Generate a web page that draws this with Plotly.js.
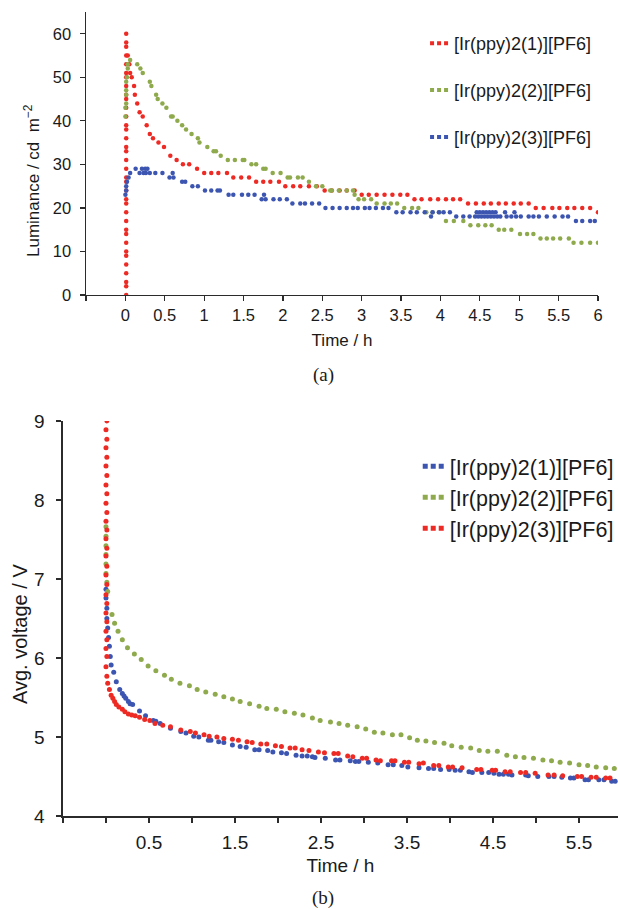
<!DOCTYPE html>
<html>
<head>
<meta charset="utf-8">
<script src="https://cdn.plot.ly/plotly-3.0.1.min.js"></script>
<style>html,body{margin:0;padding:0;background:#fff;overflow:hidden}#chart{width:618px;height:909px}</style>
</head>
<body>
<div id="chart"></div>
<script>
// ---------- (a) Luminance vs time ----------
const seriesNamesA = ['[Ir(ppy)2(1)][PF6]', '[Ir(ppy)2(2)][PF6]', '[Ir(ppy)2(3)][PF6]'];
const timeA1 = [0.01,0.01,0.01,0.01,0.01,0.01,0.01,0.01,0.01,0.01,0.01,0.01,0.01,0.01,0.01,0.01,0.01,0.01,0.01,0.01,0.01,0.01,0.01,0.01,0.01,0.01,0.01,0.01,0.01,0.01,0.01,0.01,0.01,0.01,0.01,0.01,
  0.03,0.05,0.06,0.08,0.11,0.12,0.15,0.18,0.22,0.27,0.31,0.35,0.42,0.49,0.57,0.65,0.73,0.81,0.91,1.0,1.09,1.18,1.29,1.37,1.47,1.57,1.66,1.75,1.84,1.95,2.03,2.13,2.22,2.33,2.43,2.53,2.62,2.72,2.81,2.91,3.0,3.09,3.19,3.29,3.39,3.49,3.58,3.67,3.76,3.87,3.97,4.07,4.16,4.25,4.35,4.45,4.55,4.64,4.74,4.83,4.93,5.02,5.12,5.21,5.31,5.42,5.51,5.61,5.70,5.80,5.90,6.0];
const lumA1 = [0,2,3,5,7,9,10,12,14,15,17,19,21,22,24,26,27,29,31,33,34,36,38,39,41,43,45,46,48,50,51,53,55,57,58,60,
  55,53,51,50,48,46,44,42,41,39,37,36,35,34,32,31,30,30,29,28,28,28,28,27,27,27,26,26,26,26,25,25,25,25,25,24,24,24,24,24,23,23,23,23,23,23,23,22,22,22,22,22,22,22,21,21,21,21,21,21,21,21,21,20,20,20,20,20,20,20,20,19];
const timeA2 = [0,0,0.01,0.01,0.01,0.01,0.02,0.03,0.03,0.06,0.15,0.19,0.22,0.31,0.33,0.39,0.41,0.47,0.52,0.58,0.60,0.66,0.72,0.77,0.84,0.92,0.94,1.04,1.12,1.15,1.21,1.30,1.39,1.49,1.51,1.60,1.66,1.75,1.78,1.87,1.97,2.06,2.09,2.19,2.25,2.33,2.42,2.50,2.60,2.62,2.71,2.81,2.89,2.91,2.96,3.03,3.12,3.19,3.29,3.37,3.45,3.54,3.64,3.72,3.82,3.90,3.99,4.07,4.17,4.29,4.38,4.48,4.57,4.65,4.74,4.81,4.90,5.01,5.10,5.18,5.27,5.35,5.43,5.52,5.63,5.69,5.79,5.90,6.0];
const lumA2 = [41,43,44,46,47,49,50,52,53,54,53,52,51,49,48,46,45,44,43,41,41,40,39,38,37,36,35,34,33,33,32,31,31,31,31,30,30,29,29,28,28,27,27,27,27,26,25,25,24,24,24,24,24,23,22,22,22,21,21,21,21,20,20,20,19,19,19,17,17,17,16,16,16,16,15,15,15,14,14,14,13,13,13,13,13,12,12,12,12];
const timeA3 = [0,0.01,0.01,0.02,0.04,0.06,0.13,0.18,0.21,0.23,0.25,0.26,0.28,0.31,0.38,0.47,0.56,0.60,0.61,0.72,0.76,0.85,0.92,1.01,1.09,1.17,1.20,1.31,1.37,1.48,1.56,1.64,1.73,1.76,1.78,1.88,1.96,2.05,2.12,2.22,2.28,2.37,2.46,2.54,2.63,2.72,2.81,2.89,2.95,3.04,3.10,3.18,3.27,3.34,3.44,3.52,3.62,3.70,3.80,3.88,3.90,3.98,4.04,4.12,4.20,4.29,4.37,4.44,4.46,4.48,4.50,4.52,4.54,4.56,4.58,4.60,4.62,4.64,4.66,4.68,4.70,4.72,4.76,4.82,4.84,4.90,4.94,4.96,5.02,5.12,5.18,5.25,5.35,5.45,5.55,5.62,5.72,5.80,5.90,5.96];
const lumA3 = [23,24,25,26,27,28,29,28,29,28,29,28,29,28,28,28,27,28,27,26,26,25,25,24,24,24,24,23,23,23,23,23,22,23,22,22,22,22,21,21,21,21,21,20,20,20,20,20,20,20,20,20,20,20,19,19,19,19,19,18,19,19,19,19,18,18,18,18,19,18,19,18,19,18,19,18,19,18,19,18,19,18,18,19,18,18,19,18,18,18,18,18,18,18,18,18,17,17,17,17];
const xTicksA = [0,0.5,1,1.5,2,2.5,3,3.5,4,4.5,5,5.5,6];
const xTickTextA = ['0','0.5','1','1.5','2','2.5','3','3.5','4','4.5','5','5.5','6'];

// ---------- (b) Average voltage vs time ----------
const seriesNamesB = ['[Ir(ppy)2(1)][PF6]', '[Ir(ppy)2(2)][PF6]', '[Ir(ppy)2(3)][PF6]'];
const timeB1 = [0,0,0.01,0.01,0.02,0.03,0.04,0.05,0.06,0.09,0.12,0.16,0.19,0.21,0.23,0.26,0.28,0.31,0.39,0.46,0.55,0.58,0.63,0.75,0.87,0.93,1.02,1.08,1.19,1.22,1.31,1.37,1.47,1.56,1.63,1.73,1.78,1.88,1.94,2.04,2.10,2.21,2.28,2.34,2.40,2.43,2.55,2.67,2.72,2.84,2.90,2.94,3.05,3.16,3.28,3.34,3.44,3.51,3.64,3.75,3.81,3.89,3.99,4.06,4.12,4.22,4.26,4.37,4.45,4.51,4.57,4.62,4.68,4.72,4.88,4.91,5.02,5.15,5.21,5.30,5.40,5.44,5.57,5.61,5.73,5.79,5.88,5.92];
const voltB1 = [6.87,6.76,6.63,6.50,6.38,6.26,6.15,6.02,5.91,5.82,5.70,5.60,5.55,5.52,5.49,5.45,5.42,5.41,5.33,5.27,5.21,5.20,5.17,5.11,5.07,5.05,5.01,5.00,4.96,4.96,4.94,4.93,4.90,4.88,4.87,4.84,4.84,4.83,4.81,4.80,4.79,4.77,4.76,4.76,4.75,4.74,4.73,4.71,4.71,4.70,4.69,4.69,4.68,4.67,4.65,4.65,4.64,4.62,4.61,4.60,4.60,4.59,4.59,4.58,4.58,4.56,4.55,4.55,4.55,4.54,4.53,4.53,4.53,4.52,4.52,4.51,4.50,4.50,4.50,4.49,4.48,4.48,4.46,4.46,4.46,4.46,4.44,4.44];
const timeB2 = [0,0,0,0,0,0,0.01,0.02,0.07,0.10,0.14,0.19,0.25,0.33,0.41,0.49,0.58,0.68,0.76,0.86,0.97,1.06,1.16,1.27,1.37,1.47,1.56,1.67,1.78,1.87,1.98,2.08,2.19,2.29,2.40,2.49,2.61,2.71,2.81,2.92,3.02,3.12,3.22,3.33,3.43,3.53,3.62,3.72,3.82,3.93,4.02,4.13,4.24,4.34,4.44,4.55,4.66,4.76,4.86,4.97,5.08,5.18,5.28,5.39,5.50,5.60,5.70,5.81,5.91];
const voltB2 = [7.66,7.54,7.42,7.31,7.19,7.07,6.96,6.84,6.55,6.44,6.34,6.23,6.13,6.05,5.98,5.90,5.84,5.78,5.73,5.68,5.65,5.60,5.57,5.54,5.51,5.48,5.45,5.42,5.39,5.36,5.35,5.32,5.30,5.28,5.24,5.21,5.19,5.17,5.15,5.13,5.10,5.06,5.05,5.03,5.03,4.99,4.96,4.95,4.93,4.92,4.89,4.87,4.86,4.83,4.82,4.82,4.77,4.75,4.74,4.73,4.71,4.70,4.68,4.67,4.65,4.64,4.62,4.61,4.60];
const timeB3 = [0.01,0,0.01,0,0.01,0,0.01,0,0.01,0,0.01,0,0.01,0,0.01,0,0.01,0,0.01,0,0.01,0,0.01,0,0.01,0,0.01,0,0.01,
  0.02,0.04,0.06,0.08,0.10,0.12,0.15,0.19,0.22,0.26,0.30,0.34,0.39,0.45,0.51,0.57,0.66,0.75,0.87,0.98,1.04,1.14,1.20,1.29,1.37,1.47,1.54,1.64,1.70,1.80,1.87,1.97,2.04,2.14,2.20,2.28,2.36,2.47,2.54,2.65,2.70,2.81,2.87,2.98,3.03,3.14,3.19,3.32,3.36,3.47,3.52,3.64,3.69,3.81,3.87,3.98,4.03,4.14,4.31,4.36,4.49,4.53,4.64,4.70,4.82,4.88,4.99,5.14,5.21,5.31,5.48,5.53,5.64,5.70,5.81,5.86];
const voltB3 = [9.0,8.89,8.77,8.66,8.54,8.43,8.31,8.19,8.08,7.96,7.84,7.73,7.62,7.51,7.39,7.29,7.16,7.05,6.93,6.80,6.69,6.57,6.46,6.34,6.23,6.12,6.02,5.89,5.77,
  5.68,5.60,5.53,5.49,5.45,5.41,5.38,5.35,5.32,5.29,5.28,5.27,5.25,5.22,5.21,5.17,5.15,5.13,5.09,5.07,5.05,5.03,5.01,5.00,4.98,4.97,4.96,4.94,4.93,4.91,4.91,4.89,4.88,4.86,4.86,4.84,4.83,4.81,4.80,4.79,4.79,4.76,4.75,4.73,4.73,4.71,4.70,4.70,4.70,4.68,4.68,4.66,4.67,4.64,4.64,4.62,4.62,4.61,4.59,4.59,4.58,4.58,4.56,4.56,4.55,4.55,4.54,4.52,4.52,4.51,4.50,4.50,4.49,4.49,4.48,4.48];
const xTicksB = [0.5,1.5,2.5,3.5,4.5,5.5];
const xTickTextB = ['0.5','1.5','2.5','3.5','4.5','5.5'];

const RED = '#ee2a24', GREEN = '#8eaa4c', BLUE = '#3c55b1';
const FONT = 'Liberation Sans, Arial, Helvetica, sans-serif';
const AX = '#2b2b2b';
const TXT = '#1a1a1a';

function pts(x, y, color, size, xa, ya) {
  return {x: x, y: y, xaxis: xa, yaxis: ya, type: 'scatter', mode: 'markers',
    marker: {color: color, size: size, line: {width: 0}}, showlegend: false, hoverinfo: 'skip'};
}
function key(name, color, w, dash, legend, group) {
  return {x: [null], y: [null], type: 'scatter', mode: 'lines', name: name, legend: legend,
    legendgroup: group, line: {color: color, width: w, dash: dash}, hoverinfo: 'skip'};
}
const dashA = '0px,11px,4px,3px,4px,3px,4px,99px';
const dashB = '0px,8px,5px,3px,5px,3px,5px,99px';

const data = [
  pts(timeA1, lumA1, RED, 4.5, 'x', 'y'),
  pts(timeA2, lumA2, GREEN, 4.5, 'x', 'y'),
  pts(timeA3, lumA3, BLUE, 4.5, 'x', 'y'),
  pts(timeB1, voltB1, BLUE, 5, 'x2', 'y2'),
  pts(timeB2, voltB2, GREEN, 5, 'x2', 'y2'),
  pts(timeB3, voltB3, RED, 5, 'x2', 'y2'),
  key(seriesNamesA[0], RED, 4, dashA, 'legend', 'a1'),
  key(seriesNamesA[1], GREEN, 4, dashA, 'legend', 'a2'),
  key(seriesNamesA[2], BLUE, 4, dashA, 'legend', 'a3'),
  key(seriesNamesB[0], BLUE, 5, dashB, 'legend2', 'b1'),
  key(seriesNamesB[1], GREEN, 5, dashB, 'legend2', 'b2'),
  key(seriesNamesB[2], RED, 5, dashB, 'legend2', 'b3')
];

const axCommon = {showline: true, linecolor: AX, linewidth: 1.5, ticks: 'outside', ticklen: 5,
  tickwidth: 1.3, tickcolor: AX, showgrid: false, zeroline: false, fixedrange: true};
const minorX = {ticks: 'outside', ticklen: 5, tickwidth: 1.3, tickcolor: AX, tickmode: 'linear', tick0: -0.5, dtick: 0.5, showgrid: false};

const layout = {
  width: 618, height: 909,
  margin: {l: 0, r: 0, t: 0, b: 0, autoexpand: false},
  paper_bgcolor: '#ffffff', plot_bgcolor: 'rgba(0,0,0,0)',
  font: {family: FONT, color: TXT},
  xaxis: Object.assign({}, axCommon, {domain: [0.1392, 0.9676], anchor: 'y', range: [-0.5, 6],
    tickmode: 'array', tickvals: xTicksA, ticktext: xTickTextA, tickfont: {size: 16.5}, ticklabelstandoff: 0,
    minor: minorX,
    title: {text: 'Time / h', font: {size: 17}, standoff: 11}}),
  yaxis: Object.assign({}, axCommon, {domain: [0.6755, 0.9868], anchor: 'x', range: [0, 65],
    tickmode: 'linear', tick0: 0, dtick: 10, tickfont: {size: 16.5}, ticklabelstandoff: 5}),
  xaxis2: Object.assign({}, axCommon, {domain: [0.1019, 1], anchor: 'y2', range: [-0.5, 5.953],
    tickmode: 'array', tickvals: xTicksB, ticktext: xTickTextB, tickfont: {size: 19}, ticklabelstandoff: 4,
    minor: minorX,
    title: {text: 'Time / h', font: {size: 19}, standoff: 6}}),
  yaxis2: Object.assign({}, axCommon, {domain: [0.1023, 0.5369], anchor: 'x2', range: [4, 9],
    tickmode: 'linear', tick0: 4, dtick: 1, tickfont: {size: 19}, ticklabelstandoff: 8}),
  legend: {x: 0.670, y: 0.9725, xanchor: 'left', yanchor: 'top', bgcolor: 'rgba(0,0,0,0)',
    borderwidth: 0, font: {size: 18, color: TXT}, traceorder: 'grouped', tracegroupgap: 20.5},
  legend2: {x: 0.663, y: 0.5095, xanchor: 'left', yanchor: 'top', bgcolor: 'rgba(0,0,0,0)',
    borderwidth: 0, font: {size: 21.5, color: TXT}, traceorder: 'grouped', tracegroupgap: 0},
  annotations: [
    {text: 'Luminance / cd\u00a0\u00a0m<sup>\u22122</sup>', xref: 'paper', yref: 'paper',
     x: 32/618, y: 1 - 181/909, xanchor: 'center', yanchor: 'middle', textangle: -90,
     showarrow: false, font: {family: FONT, size: 17, color: TXT}},
    {text: 'Avg. voltage / V', xref: 'paper', yref: 'paper',
     x: 20/618, y: 1 - 634/909, xanchor: 'center', yanchor: 'middle', textangle: -90,
     showarrow: false, font: {family: FONT, size: 20, color: TXT}},
    {text: '(a)', xref: 'paper', yref: 'paper', x: 0.5227, y: 1 - 375/909, xanchor: 'center', yanchor: 'middle',
     showarrow: false, font: {family: 'Liberation Serif, Times New Roman, serif', size: 19, color: TXT}},
    {text: '(b)', xref: 'paper', yref: 'paper', x: 0.5227, y: 1 - 898/909, xanchor: 'center', yanchor: 'middle',
     showarrow: false, font: {family: 'Liberation Serif, Times New Roman, serif', size: 19, color: TXT}}
  ]
};

Plotly.newPlot('chart', data, layout, {staticPlot: true, displayModeBar: false});
</script>
</body>
</html>
